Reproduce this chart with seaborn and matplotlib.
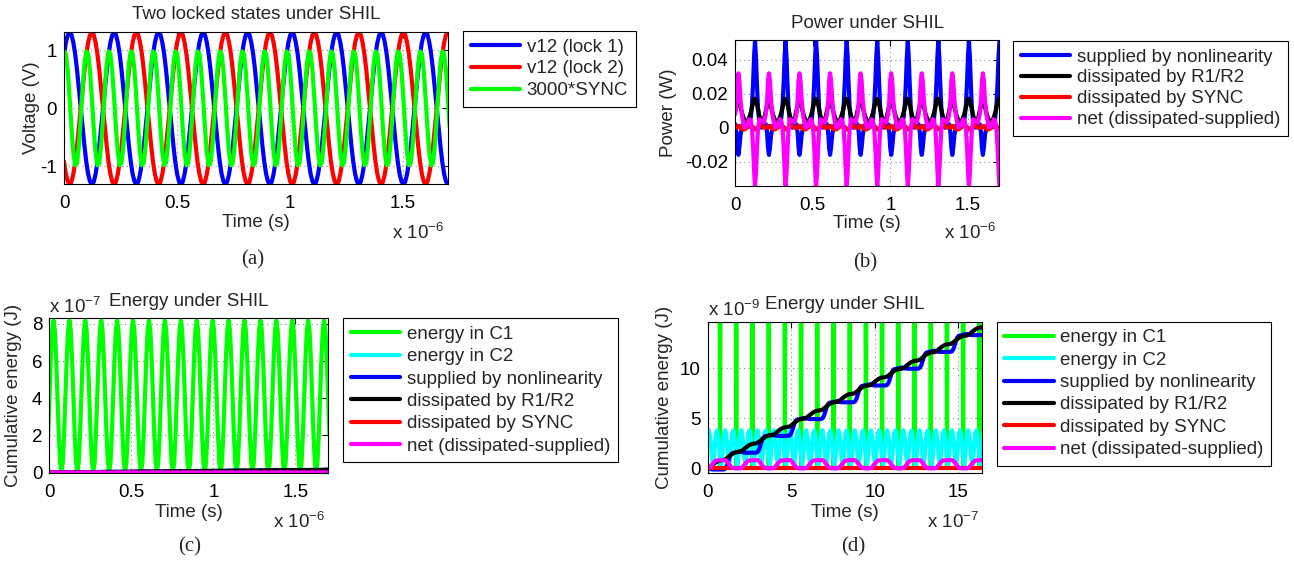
import numpy as np
import matplotlib
matplotlib.use("Agg")
import matplotlib.pyplot as plt
import seaborn as sns
from matplotlib.lines import Line2D
from matplotlib.ticker import FuncFormatter

# ------------------------------------------------------------------
# Data (time in microseconds)
# ------------------------------------------------------------------
PERIOD_US = 0.197      # oscillation period of v12
E_PERIOD_US = 0.194    # oscillation period in the energy traces
T_END_US = 1.7

# (a) one period of v12 for each locked state (24 samples per period)
V12_LOCK1 = [0.92, 1.13, 1.26, 1.31, 1.27, 1.14, 0.94, 0.67, 0.35, 0.02, -0.32, -0.64,
             -0.92, -1.13, -1.26, -1.31, -1.27, -1.14, -0.94, -0.67, -0.35, -0.02, 0.32, 0.64]
V12_LOCK2 = [-0.92, -1.13, -1.26, -1.31, -1.27, -1.14, -0.94, -0.67, -0.35, -0.02, 0.32, 0.64,
             0.92, 1.13, 1.26, 1.31, 1.27, 1.14, 0.94, 0.67, 0.35, 0.02, -0.32, -0.64]
# 3000*SYNC over one SYNC period (half of the v12 period), 12 samples
SYNC_X3000 = [0.98, 0.945, 0.655, 0.189, -0.327, -0.757, -0.982, -0.945, -0.655, -0.189, 0.327, 0.757]

# (b) power (W) over one period, sampled at these phases (us)
POWER_PHASE = [0.000, 0.008, 0.014, 0.020, 0.026, 0.034, 0.045, 0.060, 0.075, 0.090, 0.100,
               0.108, 0.115, 0.121, 0.127, 0.133, 0.139, 0.146, 0.155, 0.170, 0.185]
P_SUPPLIED = [0.002, -0.003, -0.012, -0.016, -0.012, -0.004, 0.001, 0.003, 0.002, 0.002, 0.006,
              0.014, 0.027, 0.042, 0.051, 0.042, 0.027, 0.012, 0.003, 0.000, 0.002]
P_R1R2 = [0.010, 0.013, 0.015, 0.016, 0.015, 0.012, 0.008, 0.004, 0.003, 0.006, 0.009,
          0.012, 0.015, 0.017, 0.017, 0.016, 0.014, 0.011, 0.007, 0.003, 0.005]
P_SYNC = [0.000, 0.000, 0.001, 0.001, 0.001, 0.000, -0.001, -0.001, 0.000, 0.001, 0.001,
          0.001, 0.000, 0.000, -0.001, -0.001, -0.001, 0.000, 0.001, 0.001, 0.000]
P_NET = [0.008, 0.016, 0.028, 0.032, 0.028, 0.016, 0.006, 0.000, 0.001, 0.005, 0.004,
         -0.001, -0.012, -0.025, -0.035, -0.027, -0.014, -0.001, 0.005, 0.004, 0.003]

# (c),(d) energies in nJ
# energy in C1 over one half period, starting at its minimum
E_C1_START_US = -0.023
E_C1 = [0, 55, 205, 410, 615, 765, 820, 765, 615, 410, 205, 55]
# energy in C2 over one quarter period
E_C2 = [3.5, 3.8, 3.0, 1.2, 0.3, 1.6]
# supplied energy over one period, and its rise per period
E_SUPPLIED_PHASE = [0.000, 0.015, 0.030, 0.095, 0.105, 0.115, 0.125, 0.135, 0.145, 0.160]
E_SUPPLIED = [0.00, -0.08, -0.12, -0.12, -0.05, 0.25, 0.80, 1.30, 1.50, 1.56]
E_SUPPLIED_RISE = 1.68
# energy dissipated by R1/R2 over one half period, and its rise per half period
E_R1R2_PHASE = [0.000, 0.013, 0.026, 0.039, 0.052, 0.065, 0.080]
E_R1R2 = [0.00, 0.12, 0.30, 0.48, 0.63, 0.74, 0.80]
E_R1R2_RISE = 0.83
# energy dissipated by SYNC
E_SYNC_PHASE = [0.000, 0.100]
E_SYNC = [0.0, 0.0]
# net energy over one period
E_NET_PHASE = [0.000, 0.012, 0.025, 0.040, 0.055, 0.105, 0.118, 0.130, 0.142, 0.160]
E_NET = [0.00, 0.08, 0.35, 0.65, 0.80, 0.82, 0.65, 0.35, 0.12, 0.00]

# ------------------------------------------------------------------
W, H = 1294, 565
BLUE, RED, GREEN, BLACK, CYAN, MAGENTA = "#0000ff", "#ff0000", "#00ff00", "#000000", "#00ffff", "#ff00ff"
LW = 3.0
FS = 13.5

sns.set_style("white")
plt.rcParams["font.family"] = ["Liberation Sans", "DejaVu Sans"]
plt.rcParams["mathtext.fontset"] = "custom"
plt.rcParams["mathtext.rm"] = "Liberation Sans"


def periodic(values, period, t_end, phase=None, t0=0.0, rise=0.0):
    """Repeat one period of samples along the time axis."""
    values = np.asarray(values, float)
    if phase is None:
        phase = np.arange(len(values)) * period / len(values)
    phase = np.asarray(phase, float)
    n = int(np.ceil((t_end - t0) / period)) + 2
    k = np.arange(n)[:, None]
    t = (t0 + phase[None, :] + k * period).ravel()
    v = (values[None, :] + k * rise).ravel()
    idx = np.searchsorted(t, t_end) + 1
    return t[:idx], v[:idx]


def px_axes(left, top, right, bottom):
    return fig.add_axes([left / W, 1 - bottom / H, (right - left) / W, (bottom - top) / H])


def style(ax):
    for s in ax.spines.values():
        s.set_color("black")
        s.set_linewidth(0.8)
    ax.tick_params(direction="in", length=4, width=0.8, top=True, right=True,
                   labelsize=FS, pad=5, colors="black")
    ax.tick_params(axis="x", pad=8)
    ax.grid(True, linestyle=(0, (1, 3)), color="#8c8c8c", linewidth=0.8)
    ax.set_axisbelow(True)
    ax.xaxis.set_major_formatter(FuncFormatter(lambda v, p: f"{v:g}"))
    ax.yaxis.set_major_formatter(FuncFormatter(lambda v, p: f"{v:g}"))


def draw(ax, t, v, color):
    sns.lineplot(x=t, y=v, ax=ax, color=color, linewidth=LW, estimator=None,
                 sort=False, legend=False)


def legend(ax, labels, colors, left, top, spacing):
    handles = [Line2D([], [], color=c, lw=LW) for c in colors]
    leg = ax.legend(handles, labels, loc="upper left",
                    bbox_to_anchor=(left / W, 1 - top / H), bbox_transform=fig.transFigure,
                    borderaxespad=0, frameon=True, fancybox=False, framealpha=1,
                    edgecolor="black", fontsize=FS, handlelength=2.65,
                    handletextpad=0.35, labelspacing=spacing, borderpad=0.4)
    leg.get_frame().set_linewidth(0.8)


def xoffset(ax, text):
    ax.text(0.99, -0.25, text, transform=ax.transAxes, ha="right", va="top", fontsize=FS)


def yoffset(ax, text):
    ax.text(0.0, 1.01, text, transform=ax.transAxes, ha="left", va="bottom", fontsize=FS)


def labels(ax, title, xlabel, ylabel, ylabel_x):
    ax.set_title(title, fontsize=FS, pad=9)
    ax.set_xlabel(xlabel, fontsize=FS)
    ax.set_ylabel(ylabel, fontsize=FS)
    ax.xaxis.set_label_coords(0.5, -0.2)
    ax.yaxis.set_label_coords(ylabel_x, 0.5)


fig = plt.figure(figsize=(W / 100, H / 100), dpi=100)

# ---------------- (a) voltages ----------------
ax = px_axes(64, 31.7, 448, 184)
style(ax)
for vals, per, col in [(V12_LOCK1, PERIOD_US, BLUE), (V12_LOCK2, PERIOD_US, RED),
                       (SYNC_X3000, PERIOD_US / 2, GREEN)]:
    t, v = periodic(vals, per, T_END_US)
    draw(ax, t, v, col)
ax.set_xlim(0, T_END_US)
ax.set_ylim(-1.305, 1.32)
ax.set_xticks([0, 0.5, 1, 1.5])
ax.set_yticks([-1, 0, 1])
labels(ax, "Two locked states under SHIL", "Time (s)", "Voltage (V)", -0.062)
xoffset(ax, r"x 10$^{-6}$")
legend(ax, ["v12 (lock 1)", "v12 (lock 2)", "3000*SYNC"], [BLUE, RED, GREEN], 463, 31, 0.25)
fig.text(253 / W, 1 - 260 / H, "(a)", family="Liberation Serif", fontsize=15, ha="center", va="center")

# ---------------- (b) power ----------------
ax = px_axes(735.3, 40, 999, 186)
style(ax)
for vals, col in [(P_SUPPLIED, BLUE), (P_R1R2, BLACK), (P_SYNC, RED), (P_NET, MAGENTA)]:
    t, v = periodic(vals, PERIOD_US, T_END_US, phase=POWER_PHASE)
    draw(ax, t, v, col)
ax.set_xlim(0, T_END_US)
ax.set_ylim(-0.0343, 0.0516)
ax.set_xticks([0, 0.5, 1, 1.5])
ax.set_yticks([-0.02, 0, 0.02, 0.04])
labels(ax, "Power under SHIL", "Time (s)", "Power (W)", -0.221)
xoffset(ax, r"x 10$^{-6}$")
legend(ax, ["supplied by nonlinearity", "dissipated by R1/R2", "dissipated by SYNC",
            "net (dissipated-supplied)"], [BLUE, BLACK, RED, MAGENTA], 1013, 41, 0.2)
fig.text(865 / W, 1 - 263 / H, "(b)", family="Liberation Serif", fontsize=15, ha="center", va="center")

# ---------------- energies ----------------
energy_series = [
    (*periodic(E_C1, E_PERIOD_US / 2, T_END_US, t0=E_C1_START_US), GREEN),
    (*periodic(E_C2, E_PERIOD_US / 4, T_END_US), CYAN),
    (*periodic(E_SUPPLIED, E_PERIOD_US, T_END_US, phase=E_SUPPLIED_PHASE,
               rise=E_SUPPLIED_RISE), BLUE),
    (*periodic(E_R1R2, E_PERIOD_US / 2, T_END_US, phase=E_R1R2_PHASE, rise=E_R1R2_RISE), BLACK),
    (*periodic(E_SYNC, E_PERIOD_US / 2, T_END_US, phase=E_SYNC_PHASE), RED),
    (*periodic(E_NET, E_PERIOD_US, T_END_US, phase=E_NET_PHASE), MAGENTA),
]
energy_labels = ["energy in C1", "energy in C2", "supplied by nonlinearity", "dissipated by R1/R2",
                 "dissipated by SYNC", "net (dissipated-supplied)"]
energy_colors = [GREEN, CYAN, BLUE, BLACK, RED, MAGENTA]

# (c) full scale, units of 1e-7 J and 1e-6 s
ax = px_axes(49.3, 318.3, 328.3, 472.7)
style(ax)
for t, v, col in energy_series:
    draw(ax, t, v / 100.0, col)
ax.set_xlim(0, T_END_US)
ax.set_ylim(-0.01, 8.3)
ax.set_xticks([0, 0.5, 1, 1.5])
ax.set_yticks([0, 2, 4, 6, 8])
labels(ax, "Energy under SHIL", "Time (s)", "Cumulative energy (J)", -0.098)
xoffset(ax, r"x 10$^{-6}$")
yoffset(ax, r"x 10$^{-7}$")
legend(ax, energy_labels, energy_colors, 343.3, 318.3, 0.28)
fig.text(190 / W, 1 - 547 / H, "(c)", family="Liberation Serif", fontsize=15, ha="center", va="center")

# (d) zoomed, units of 1e-9 J and 1e-7 s
ax = px_axes(707.7, 321.7, 981.7, 473.3)
style(ax)
for t, v, col in energy_series:
    draw(ax, t * 10.0, v, col)
ax.set_xlim(0, 16.4)
ax.set_ylim(-0.5, 14.66)
ax.set_xticks([0, 5, 10, 15])
ax.set_yticks([0, 5, 10])
labels(ax, "Energy under SHIL", "Time (s)", "Cumulative energy (J)", -0.127)
xoffset(ax, r"x 10$^{-7}$")
yoffset(ax, r"x 10$^{-9}$")
legend(ax, energy_labels, energy_colors, 996.7, 321.7, 0.28)
fig.text(853 / W, 1 - 547 / H, "(d)", family="Liberation Serif", fontsize=15, ha="center", va="center")

fig.savefig("out.png", dpi=100)
